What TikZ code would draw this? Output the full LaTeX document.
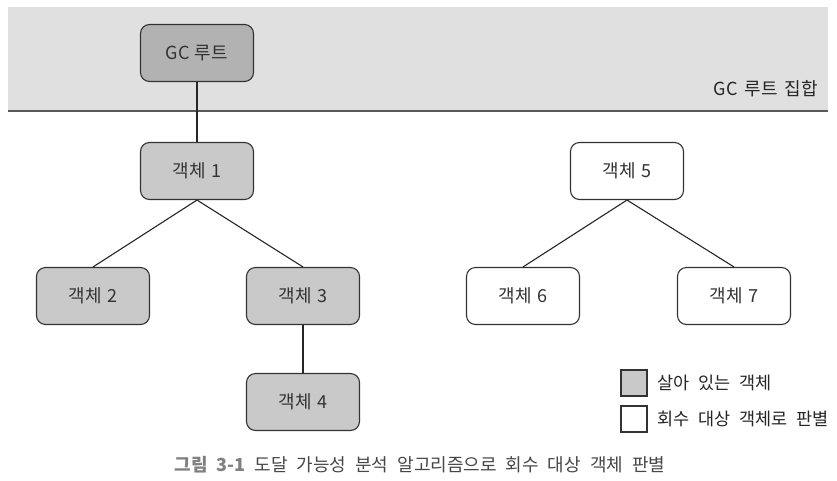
\documentclass[tikz,border=0pt]{standalone}
\usepackage{fontspec}
\setmainfont{Noto Sans CJK KR}
\newfontfamily\kr{Noto Sans CJK KR}
\newcommand\nodefont{\kr\fontsize{18}{21}\selectfont\spaceskip=5pt\relax}
\newcommand\labfont{\kr\fontsize{18}{21}\selectfont\spaceskip=7pt\relax}
\newcommand\legfont{\kr\fontsize{17.5}{20}\selectfont\spaceskip=9pt\relax}
\newcommand\capfont{\kr\fontsize{18}{21}\selectfont\spaceskip=9pt\relax}
\begin{document}
\begin{tikzpicture}[x=1pt,y=-1pt,
  obj/.style={draw=black!80,line width=1.1pt,rounded corners=9pt,minimum width=113pt,minimum height=57pt,inner sep=0pt,font=\nodefont,text=black!80},
  live/.style={obj,fill=black!21},
  dead/.style={obj,fill=white},
  link/.style={draw=black!85,line width=1.1pt},
  legbox/.style={draw=black!80,line width=1.1pt,minimum size=26pt,inner sep=0pt},
  legtext/.style={font=\legfont,text=black!85,anchor=west,inner sep=0pt}]
\useasboundingbox (0,0) rectangle (837,480);
\fill[white] (0,0) rectangle (837,480);
\fill[black!12] (8,7) rectangle (828,111);
\draw[black!65,line width=1.4pt] (8,111) -- (828,111);
\node[font=\labfont,text=black!85,anchor=east,inner sep=0pt] (setlabel) at (818,89) {GC 루트 집합};
\node[obj,fill=black!30] (root) at (197,53) {GC 루트};
\node[live] (o1) at (197,171) {객체 1};
\node[live] (o2) at (93,296) {객체 2};
\node[live] (o3) at (303,296) {객체 3};
\node[live] (o4) at (303,402) {객체 4};
\node[dead] (o5) at (627,171) {객체 5};
\node[dead] (o6) at (523,296) {객체 6};
\node[dead] (o7) at (734,296) {객체 7};
\draw[link] (root.south) -- (o1.north);
\draw[link] (o1.south) -- (o2.north);
\draw[link] (o1.south) -- (o3.north);
\draw[link] (o3.south) -- (o4.north);
\draw[link] (o5.south) -- (o6.north);
\draw[link] (o5.south) -- (o7.north);
\node[legbox,fill=black!21] (lg1) at (634,383) {};
\node[legbox,fill=white] (lg2) at (634,419) {};
\node[legtext] (lt1) at (657,383) {살아 있는 객체};
\node[legtext] (lt2) at (657,419) {회수 대상 객체로 판별};
\node[font=\capfont,text=black!72,inner sep=0pt] (cap) at (420,465) {{\bfseries\color{black!50}그림 3-1} 도달 가능성 분석 알고리즘으로 회수 대상 객체 판별};
\end{tikzpicture}
\end{document}
